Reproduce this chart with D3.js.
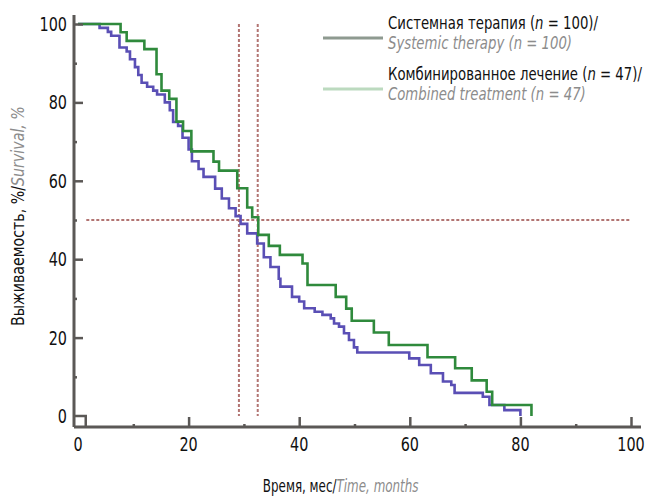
<!DOCTYPE html>
<html>
<head>
<meta charset="utf-8">
<script src="https://cdn.jsdelivr.net/npm/d3@7"></script>
<style>
  body { margin: 0; background: #fff; }
  svg text { font-family: "DejaVu Sans Condensed", "DejaVu Sans", sans-serif; font-stretch: condensed; }
  .grey-it { fill: #8c8c8c; font-style: italic; }
</style>
</head>
<body>
<svg id="chart"></svg>
<script>
// time (months) / survival (%)
const systemicTime = [0, 3.9, 5.4, 6.0, 7.5, 8.8, 9.4, 10.3, 10.9, 11.5, 12.5, 13.6, 14.3, 15.7, 16.6, 17.2, 18.1, 18.9, 20.0, 20.6, 21.8, 22.7, 24.8, 26.0, 27.3, 28.5, 29.4, 30.6, 32.4, 33.6, 34.8, 36.3, 36.6, 38.7, 40.0, 40.9, 42.8, 44.2, 45.7, 46.3, 47.2, 48.1, 49.0, 49.9, 50.5, 59.9, 61.7, 63.8, 66.0, 67.5, 68.1, 73.2, 74.4, 77.1, 80.0];
const systemicSurv = [100, 99, 98, 97, 94, 93, 91, 89, 87, 85, 84, 83, 82, 80, 78, 75, 74, 71, 68, 65, 63, 61, 58, 55.5, 53, 51, 49, 46.6, 44, 40.5, 38, 35, 33, 30.4, 29.2, 27.5, 26.6, 25.8, 24.9, 23.6, 22.8, 21.1, 19.4, 17.5, 16.2, 14.7, 13, 10.9, 8.8, 7.9, 5.9, 4.9, 2.8, 1.5, 0];

const combinedTime = [0, 7.7, 8.8, 12.0, 14.2, 15.1, 16.5, 17.8, 19.0, 20.5, 24.5, 25.5, 28.8, 30.6, 31.5, 32.6, 34.5, 36.5, 40.6, 41.5, 46.6, 48.5, 49.5, 53.5, 56.2, 63.2, 68.2, 71.2, 73.9, 74.9, 82.0];
const combinedSurv = [100, 97.9, 95.7, 93.6, 87.2, 83.0, 80.9, 75.1, 72.7, 67.5, 64.9, 62.6, 58.1, 53.2, 50.7, 46.2, 43.4, 41.1, 38.9, 33.4, 30.4, 27.4, 24.3, 21.3, 18.1, 15.0, 12.2, 9.1, 6.2, 2.8, 0];

const medianTimes = [29.1, 32.5];
const medianLevel = 50;

const xTicks = [0, 20, 40, 60, 80, 100];
const xMinorTicks = [10, 30, 50, 70, 90];
const yTicks = [0, 20, 40, 60, 80, 100];
const yMinorTicks = [10, 30, 50, 70, 90];

const seriesNames = ['Системная терапия', 'Комбинированное лечение'];
const seriesNamesEn = ['Systemic therapy', 'Combined treatment'];
const seriesN = [100, 47];

const width = 651, height = 498;
const margin = {top: 24, right: 20, bottom: 82, left: 78};
const innerW = width - margin.left - margin.right;
const innerH = height - margin.top - margin.bottom;

const axisColor = '#5b5856';
const refColor = '#b27472';
const lineColors = ['#5a4fb5', '#2f8a3c'];
const legendColors = ['#8e9a90', '#bcdabf'];

// squeeze text horizontally to mimic the condensed face of the original
function condense(sel, k) {
  sel.each(function() {
    const t = d3.select(this);
    const tx = +t.attr('x') || 0, ty = +t.attr('y') || 0;
    const prev = t.attr('transform') || '';
    t.attr('x', 0).attr('y', 0)
     .attr('transform', `${prev} translate(${tx},${ty}) scale(${k},1)`);
  });
}

const svg = d3.select('#chart')
    .attr('width', width)
    .attr('height', height);

const chart = svg.append('g')
    .attr('transform', `translate(${margin.left},${margin.top})`);

const x = d3.scaleLinear().domain([0, 100]).range([0, innerW]);
const y = d3.scaleLinear().domain([0, 100]).range([innerH, 0]);

// axis baseline sits a bit below the zero level, like the original
const axisY = y(0) + 11;
const axisX = x(0) - 4;

// reference (median) lines
chart.append('line')
    .attr('x1', x(1.5)).attr('x2', x(100))
    .attr('y1', y(medianLevel)).attr('y2', y(medianLevel))
    .attr('stroke', refColor).attr('stroke-width', 2)
    .attr('stroke-dasharray', '3,2');

chart.selectAll('.median-v')
  .data(medianTimes)
  .join('line')
    .attr('class', 'median-v')
    .attr('x1', d => x(d)).attr('x2', d => x(d))
    .attr('y1', y(100)).attr('y2', y(0))
    .attr('stroke', refColor).attr('stroke-width', 2)
    .attr('stroke-dasharray', '3,2');

// survival curves
const series = [
  systemicTime.map((t, i) => [t, systemicSurv[i]]),
  combinedTime.map((t, i) => [t, combinedSurv[i]])
];

const line = d3.line()
    .x(d => x(d[0]))
    .y(d => y(d[1]))
    .curve(d3.curveStepAfter);

chart.selectAll('.km-line')
  .data(series)
  .join('path')
    .attr('class', 'km-line')
    .attr('fill', 'none')
    .attr('stroke', (d, i) => lineColors[i])
    .attr('stroke-width', 2.6)
    .attr('d', line);

// axes (ticks point inward)
const xAxisG = chart.append('g').attr('transform', `translate(0,${axisY})`);
xAxisG.append('g').call(d3.axisTop(x).tickValues(xTicks.slice(1)).tickSize(10).tickFormat(''));
xAxisG.append('g').call(d3.axisTop(x).tickValues(xMinorTicks).tickSize(3).tickFormat(''));
xAxisG.selectAll('.domain').remove();
xAxisG.selectAll('line').attr('stroke', axisColor).attr('stroke-width', 2.5);

xAxisG.append('line')
    .attr('x1', axisX).attr('x2', x(100) + 10)
    .attr('stroke', axisColor).attr('stroke-width', 3);

chart.selectAll('.x-label')
  .data(xTicks)
  .join('text')
    .attr('class', 'x-label')
    .attr('x', d => x(d))
    .attr('y', axisY + 24)
    .attr('text-anchor', 'middle')
    .attr('font-size', 20)
    .attr('fill', '#111')
    .text(d => d)
    .call(condense, 0.8);

const yAxisG = chart.append('g').attr('transform', `translate(${axisX},0)`);
yAxisG.append('g').call(d3.axisRight(y).tickValues(yTicks.slice(1)).tickSize(9).tickFormat(''));
yAxisG.append('g').call(d3.axisRight(y).tickValues(yMinorTicks).tickSize(3).tickFormat(''));
yAxisG.selectAll('.domain').remove();
yAxisG.selectAll('line').attr('stroke', axisColor).attr('stroke-width', 2.5);

yAxisG.append('line')
    .attr('y1', y(100) - 9).attr('y2', axisY)
    .attr('stroke', axisColor).attr('stroke-width', 3);

// little step at the origin
yAxisG.append('path')
    .attr('d', `M0,${y(0)}H${x(1.4) - axisX}V${axisY}`)
    .attr('fill', 'none')
    .attr('stroke', axisColor).attr('stroke-width', 2.5);

chart.selectAll('.y-label')
  .data(yTicks)
  .join('text')
    .attr('class', 'y-label')
    .attr('x', axisX - 7)
    .attr('y', d => y(d) + 7)
    .attr('text-anchor', 'end')
    .attr('font-size', 20)
    .attr('fill', '#111')
    .text(d => d)
    .call(condense, 0.8);

// axis titles
const xTitle = svg.append('text')
    .attr('x', margin.left + x(47.5))
    .attr('y', 492)
    .attr('text-anchor', 'middle')
    .attr('font-size', 17)
    .attr('fill', '#111');
xTitle.append('tspan').text('Время, мес/');
xTitle.append('tspan').attr('class', 'grey-it').text('Time, months');
xTitle.call(condense, 0.78);

const yTitle = svg.append('text')
    .attr('transform', `translate(24,${margin.top + y(51)})rotate(-90)`)
    .attr('text-anchor', 'middle')
    .attr('font-size', 17)
    .attr('fill', '#111');
yTitle.append('tspan').text('Выживаемость, %/');
yTitle.append('tspan').attr('class', 'grey-it').text('Survival, %');
yTitle.call(condense, 0.93);

// legend
const legend = svg.append('g').attr('transform', 'translate(323,0)');
const legendRows = legend.selectAll('.legend-row')
  .data(seriesNames)
  .join('g')
    .attr('class', 'legend-row')
    .attr('transform', (d, i) => `translate(0,${i * 51})`);

legendRows.append('line')
    .attr('x1', 0).attr('x2', 60)
    .attr('y1', 38).attr('y2', 38)
    .attr('stroke', (d, i) => legendColors[i])
    .attr('stroke-width', 3);

const ruText = legendRows.append('text')
    .attr('x', 65).attr('y', 29)
    .attr('font-size', 18)
    .attr('fill', '#111');
ruText.append('tspan').text(d => d + ' (');
ruText.append('tspan').attr('font-style', 'italic').text('n');
ruText.append('tspan').text((d, i) => ` = ${seriesN[i]})/`);
ruText.call(condense, 0.82);

legendRows.append('text')
    .attr('class', 'grey-it')
    .attr('x', 65).attr('y', 49)
    .attr('font-size', 18)
    .text((d, i) => `${seriesNamesEn[i]} (n = ${seriesN[i]})`)
    .call(condense, 0.82);
</script>
</body>
</html>
